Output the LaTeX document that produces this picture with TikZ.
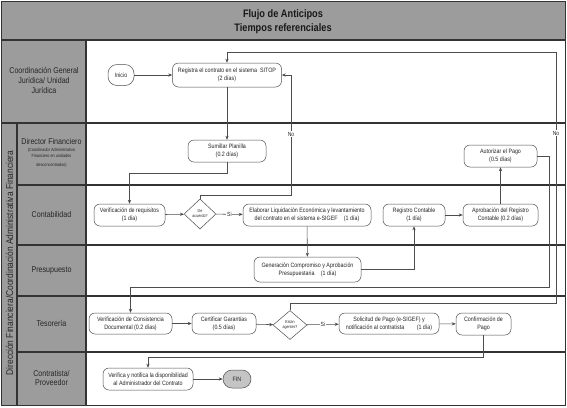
\documentclass[tikz,border=0pt]{standalone}
\usepackage{fontspec}
\setmainfont{Liberation Sans}[FakeStretch=0.85]
\usetikzlibrary{arrows.meta,shapes.geometric}
\definecolor{lanegray}{HTML}{9C9C9C}
\definecolor{lineC}{HTML}{4D4D4D}
\definecolor{laneline}{HTML}{333333}
\definecolor{fingray}{HTML}{C4C4C4}
\begin{document}
\begin{tikzpicture}[x=1bp,y=-1bp,
  box/.style={draw=lineC, line width=0.5bp, rounded corners=6bp, fill=white, align=center,
    inner sep=1bp, font=\fontsize{6.3}{7.8}\selectfont, text=black!85},
  decis/.style={draw=lineC, line width=0.5bp, fill=white, diamond, inner sep=0pt, align=center,
    font=\fontsize{4.3}{5}\selectfont, text=black!85},
  lanelbl/.style={align=center, font=\fontsize{8.4}{10}\selectfont, text=black!85},
  conn/.style={draw=lineC, line width=0.55bp},
  arr/.style={conn, -{Stealth[length=4bp,width=3.2bp]}},
  lbl/.style={fill=white, inner sep=0.8bp, font=\fontsize{6}{7}\selectfont, text=black!85},
  laneln/.style={draw=laneline, line width=1.2bp}
]
\useasboundingbox (0,0) rectangle (567,407);
% backgrounds
\fill[white] (1.5,1.5) rectangle (565.5,405.5);
\fill[lanegray] (1.5,1.5) rectangle (565.5,40);
\fill[lanegray] (1.5,40) rectangle (86,405.5);
% lane lines
\draw[laneln] (1.5,40) -- (565.5,40);
\draw[laneln] (1.5,123) -- (565.5,123);
\draw[laneln] (17,185) -- (565.5,185);
\draw[laneln] (17,245) -- (565.5,245);
\draw[laneln] (17,296) -- (565.5,296);
\draw[laneln] (17,352) -- (565.5,352);
\draw[laneln] (86,40) -- (86,405.5);
\draw[laneln] (17,123) -- (17,405.5);
\draw[draw=laneline, line width=1.5bp] (1.5,1.5) rectangle (565.5,405.5);
% title
\node[align=center, font=\bfseries\fontsize{10.9}{14}\selectfont, text=black!90] (title) at (283,22) {Flujo de Anticipos\\Tiempos referenciales};
% lane labels
\node[lanelbl] (l1) at (44,80) {Coordinación General\\Jurídica/ Unidad\\Jurídica};
\node[lanelbl, font=\fontsize{9.9}{11}\selectfont, rotate=90] (lv) at (9.5,263) {Dirección Financiera/Coordinación Administrativa Financiera};
\node[lanelbl] (l2) at (51.5,142) {Director Financiero};
\node[align=center, font=\fontsize{4.5}{5.2}\selectfont, text=black!85] (l2s) at (51.5,158) {(Coordinador Administrativo\\Financiero en unidades\\[4bp]desconcentradas)};
\node[lanelbl] (l3) at (51.5,215) {Contabilidad};
\node[lanelbl] (l4) at (51.5,270) {Presupuesto};
\node[lanelbl] (l5) at (51.5,323) {Tesorería};
\node[lanelbl] (l6) at (51.5,378) {Contratista/\\Proveedor};
% nodes
\node[box, rounded corners=9bp, minimum width=26bp, minimum height=21bp] (ini) at (121,75) {Inicio};
\node[box, minimum width=109bp, minimum height=24bp] (reg) at (227,75) {Registra el contrato en el sistema \ SITOP\\(2 días)};
\node[box, minimum width=78bp, minimum height=22bp] (sum) at (227,151) {Sumillar Planilla\\(0.2 días)};
\node[box, minimum width=73bp, minimum height=22bp] (aut) at (500.5,156) {Autorizar el Pago\\(0.5 días)};
\node[box, minimum width=71bp, minimum height=22bp] (vreq) at (129.5,215) {Verificación de requisitos\\(1 día)};
\node[decis, minimum width=32bp, minimum height=30bp] (dec1) at (200,214) {De\\acuerdo?};
\node[box, minimum width=128bp, minimum height=22bp] (elab) at (307,215) {Elaborar Liquidación Económica y levantamiento\\del contrato en el sistema e-SIGEF\quad(1 día)};
\node[box, minimum width=62bp, minimum height=22bp] (regc) at (414,215) {Registro Contable\\(1 día)};
\node[box, minimum width=75bp, minimum height=22bp] (apr) at (500.5,215) {Aprobación del Registro\\Contable (0.2 días)};
\node[box, minimum width=107bp, minimum height=25bp] (gen) at (307.5,269.5) {Generación Compromiso y Aprobación\\Presupuestaria\quad(1 día)};
\node[box, minimum width=83bp, minimum height=21bp] (vcon) at (130.5,323.5) {Verificación de Consistencia\\Documental (0.2 días)};
\node[box, minimum width=64bp, minimum height=21bp] (cert) at (224,323.5) {Certificar Garantías\\(0.5 días)};
\node[decis, minimum width=34bp, minimum height=29bp] (dec2) at (290,325) {Estan\\agentes?};
\node[box, minimum width=100bp, minimum height=21bp] (sol) at (389,323.5) {Solicitud de Pago (e-SIGEF) y\\notificación al contratista\qquad(1 día)};
\node[box, minimum width=55bp, minimum height=22bp] (conf) at (483.5,324) {Confirmación de\\Pago};
\node[box, minimum width=90bp, minimum height=22bp] (ver) at (148,379) {Verifica y notifica la disponibilidad\\al Administrador del Contrato};
\node[box, fill=fingray, rounded corners=9bp, minimum width=28bp, minimum height=18bp] (fin) at (237,379) {FIN};
% coordinates
\coordinate (n1a) at (200,195);
\coordinate (n1b) at (291,195);
\coordinate (n2a) at (290,303);
\coordinate (n2b) at (556,303);
\coordinate (n2c) at (556,52);
\coordinate (n2d) at (227,52);
\coordinate (s1) at (227,173);
\coordinate (g1) at (414,269.5);
\coordinate (a1) at (549,156);
\coordinate (a2) at (549,287);
\coordinate (a3) at (130.5,287);
\coordinate (c1) at (483.5,357);
\coordinate (c2) at (148,357);
% connectors
\draw[arr] (ini) -- (reg);
\draw[arr] (reg) -- (sum);
\draw[arr] (sum.south) -- (s1) -| (vreq.north);
\draw[arr] (vreq) -- (dec1);
\draw[arr] (dec1) -- node[lbl]{Si} (elab);
\draw[arr] (dec1.north) -- (n1a) -- (n1b) |- (reg.east);
\node[lbl] (no1) at (291,134) {No};
\draw[arr] (elab) -- (gen);
\draw[arr] (gen.east) -- (g1) -- (regc.south);
\draw[arr] (regc) -- (apr);
\draw[arr] (apr) -- (aut);
\draw[arr] (aut.east) -- (a1) -- (a2) -- (a3) -- (vcon.north);
\draw[arr] (vcon) -- (cert);
\draw[arr] (cert) -- (dec2);
\draw[arr] (dec2) -- node[lbl]{Si} (sol);
\draw[arr] (sol) -- (conf);
\draw[arr] (dec2.north) -- (n2a) -- (n2b) -- (n2c) -- (n2d) -- (reg.north);
\node[lbl] (no2) at (556,133) {No};
\draw[arr] (conf.south) -- (c1) -- (c2) -- (ver.north);
\draw[arr] (ver) -- (fin);
\end{tikzpicture}
\end{document}
